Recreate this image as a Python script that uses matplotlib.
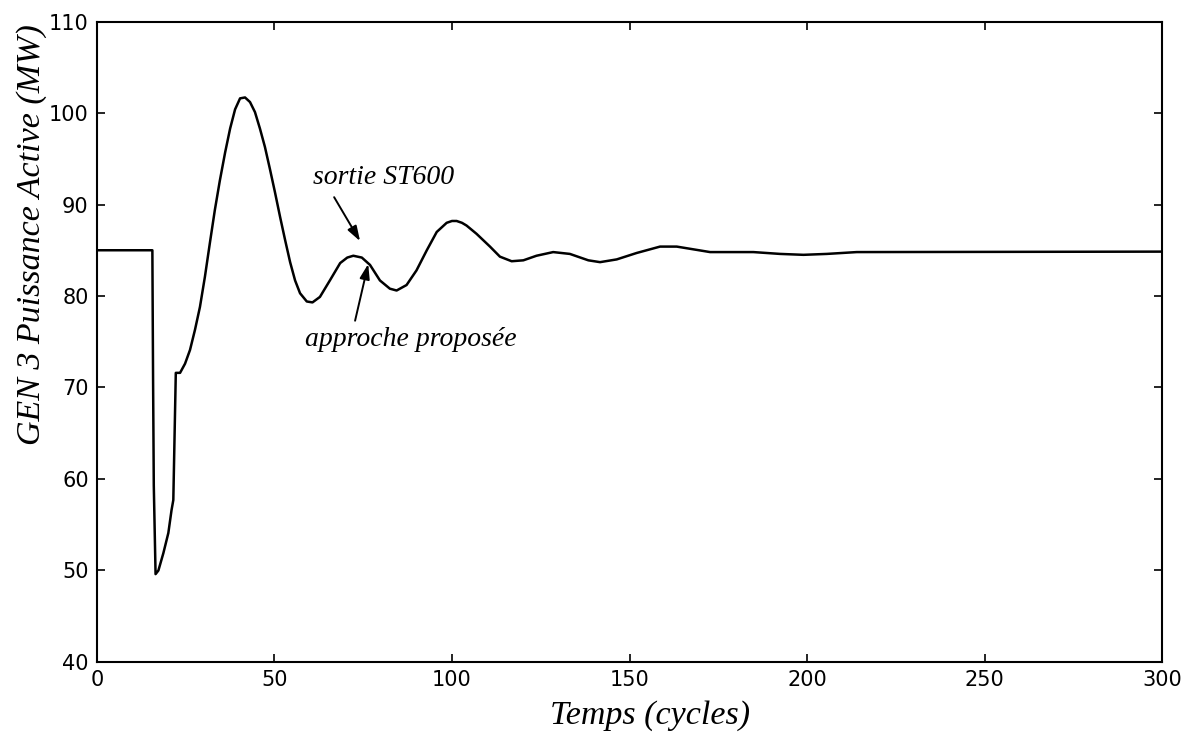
import matplotlib
matplotlib.use("Agg")
import matplotlib.pyplot as plt

# ===== Données =====
temps = [0, 15.6, 15.8, 16.0, 16.5, 17.3, 18.7, 20.1, 21.0, 21.5, 22.2, 23.4,
         24.8, 26.2, 27.6, 29.0, 30.4, 31.8, 33.2, 34.6, 36.1, 37.5, 38.9,
         40.3, 41.7, 43.1, 44.5, 45.9, 47.3, 48.7, 50.1, 51.6, 53.0, 54.4,
         55.8, 57.2, 59.1, 60.7, 62.8, 65.6, 68.5, 70.5, 72.2, 74.6, 76.9,
         79.7, 82.5, 84.4, 87.2, 90.0, 92.9, 95.7, 98.5, 100.0, 101.3, 102.8,
         104.1, 106.9, 110.7, 113.5, 116.8, 120.1, 123.8, 128.5, 133.2, 138.4,
         141.7, 146.4, 152.0, 158.6, 163.3, 168.0, 172.7, 184.9, 192.4, 199.0,
         205.6, 214.0, 300]
puissance = [85.0, 85.0, 70.8, 59.3, 49.6, 50.0, 51.9, 54.1, 56.6, 57.7, 71.6, 71.6,
             72.6, 74.1, 76.3, 78.8, 82.1, 85.8, 89.4, 92.6, 95.7, 98.3, 100.4,
             101.6, 101.7, 101.2, 100.1, 98.3, 96.3, 93.9, 91.4, 88.6, 86.1, 83.7,
             81.7, 80.3, 79.4, 79.3, 79.9, 81.7, 83.6, 84.2, 84.4, 84.2, 83.4,
             81.7, 80.8, 80.6, 81.2, 82.8, 85.0, 87.0, 88.0, 88.2, 88.2, 88.0,
             87.7, 86.8, 85.4, 84.3, 83.8, 83.9, 84.4, 84.8, 84.6, 83.9,
             83.7, 84.0, 84.7, 85.4, 85.4, 85.1, 84.8, 84.8, 84.6, 84.5,
             84.6, 84.8, 84.85]

xticks = [0, 50, 100, 150, 200, 250, 300]
yticks = [40, 50, 60, 70, 80, 90, 100, 110]

# flèches : (texte, position du texte, pointe, queue)
fleche_st600 = ("sortie ST600", (80.6, 92.9), (74.1, 86.0), (66.8, 90.8))
fleche_approche = ("approche proposée", (88.5, 75.2), (76.4, 83.5), (72.7, 77.3))

# ===== Figure =====
fig = plt.figure(figsize=(11.9, 7.37), dpi=100)
ax = fig.add_axes([0.0815, 0.1018, 0.895, 0.869])

ax.plot(temps, puissance, color="black", linewidth=1.8)

ax.set_xlim(0, 300)
ax.set_ylim(40, 110)
ax.set_xticks(xticks)
ax.set_yticks(yticks)
ax.tick_params(direction="in", length=6, width=1.2, top=True, right=True,
               labelsize=15, pad=6)
for lab in ax.get_xticklabels() + ax.get_yticklabels():
    lab.set_fontfamily("DejaVu Sans")
for s in ax.spines.values():
    s.set_linewidth(1.5)

serif = ["Liberation Serif", "DejaVu Serif"]
ax.set_xlabel("Temps (cycles)", fontsize=24.5, fontstyle="italic", family=serif,
              va="center")
ax.xaxis.set_label_coords(0.519, -0.084)
ax.set_ylabel("GEN 3 Puissance Active (MW)", fontsize=24.5, fontstyle="italic",
              family=serif, va="center")
ax.yaxis.set_label_coords(-0.061, 0.667)

for texte, pos_txt, pointe, queue in (fleche_st600, fleche_approche):
    ax.text(pos_txt[0], pos_txt[1], texte, fontsize=20, fontstyle="italic",
            family=serif, ha="center", va="center")
    ax.annotate("", xy=pointe, xytext=queue,
                arrowprops=dict(arrowstyle="-|>,head_length=0.9,head_width=0.3",
                                color="black", lw=1.4, shrinkA=0, shrinkB=0))

fig.savefig("out.png", dpi=100)
